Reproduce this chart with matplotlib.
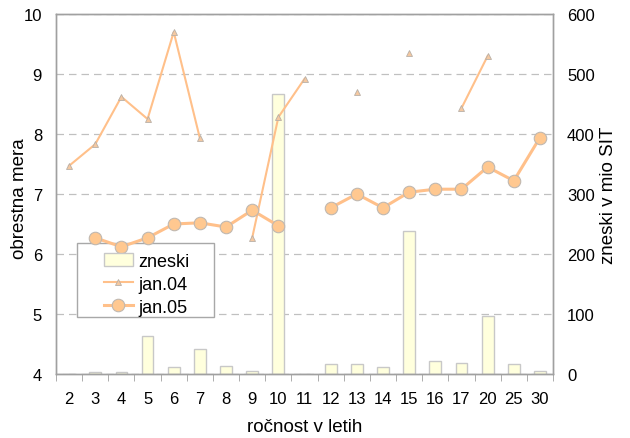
import numpy as np
import matplotlib
matplotlib.use("Agg")
import matplotlib.pyplot as plt
from matplotlib.patches import Rectangle

plt.rcParams['font.family'] = ['Liberation Sans', 'DejaVu Sans']

# podatki
rocnost = ["2", "3", "4", "5", "6", "7", "8", "9", "10", "11",
           "12", "13", "14", "15", "16", "17", "20", "25", "30"]
zneski = [0, 4, 3, 64, 11, 42, 14, 5, 467, 0,
          16, 17, 11, 239, 22, 19, 97, 17, 5]
jan04 = [7.47, 7.83, 8.62, 8.25, 9.70, 7.93, np.nan, 6.27, 8.28, 8.92,
         np.nan, 8.70, np.nan, 9.35, np.nan, 8.43, 9.30, np.nan, np.nan]
jan05 = [np.nan, 6.27, 6.12, 6.27, 6.50, 6.52, 6.45, 6.73, 6.47, np.nan,
         6.77, 7.00, 6.77, 7.03, 7.08, 7.08, 7.45, 7.22, 7.94]

siva = "#a0a0a0"
oranzna = "#ffc08a"

x = np.arange(len(rocnost))

fig = plt.figure(figsize=(6.3, 4.39), dpi=100)
ax = fig.add_axes([0.0889, 0.1458, 0.7889, 0.82])
ax2 = ax.twinx()

# stolpci na desni osi
b = ax2.bar(x, zneski, width=0.45, color="#ffffdd", edgecolor="#c8c8c8",
            linewidth=1, label="zneski", zorder=2)
ax2.set_ylim(0, 600)
ax2.set_yticks(range(0, 601, 100))
ax2.yaxis.grid(True, linestyle=(0, (6, 4)), color="#c0c0c0", linewidth=0.9)
ax2.set_axisbelow(True)
ax2.set_ylabel("zneski v mio SIT", fontsize=13.5, labelpad=4)

# crte na levi osi, nad stolpci
ax.set_zorder(ax2.get_zorder() + 1)
ax.patch.set_visible(False)
l1, = ax.plot(x, jan04, color=oranzna, linewidth=1.5, marker="^", markersize=5,
              markerfacecolor="#f5c8a0", markeredgecolor="#b8b0a8",
              markeredgewidth=0.6, label="jan.04", zorder=3)
l2, = ax.plot(x, jan05, color=oranzna, linewidth=2.2, marker="o", markersize=9,
              markerfacecolor="#ffc890", markeredgecolor="#c0b8b0",
              markeredgewidth=0.8, label="jan.05", zorder=3)
ax.set_ylim(4, 10)
ax.set_xlim(-0.5, len(rocnost) - 0.5)
ax.set_yticks(range(4, 11))
ax.set_ylabel("obrestna mera", fontsize=13.5)
ax.yaxis.set_label_coords(-0.056, 0.49)
ax.set_xlabel("ročnost v letih", fontsize=13.5, labelpad=9)

ax.set_xticks(x)
ax.set_xticklabels(rocnost)
ax.set_xticks(np.arange(-0.5, len(rocnost), 1), minor=True)
ax.tick_params(axis="x", which="major", length=0, pad=12, labelsize=12)
ax.tick_params(axis="x", which="minor", length=5, color=siva, direction="out")
ax.tick_params(axis="y", length=0, pad=10, labelsize=12)
ax2.tick_params(axis="y", length=0, pad=10, labelsize=12)

for a in (ax, ax2):
    for s in a.spines.values():
        s.set_color(siva)
        s.set_linewidth(1)

# okvir legende (kot v Excelu)
okvir = Rectangle((0.0423, 0.158), 0.2757, 0.2056, transform=ax.transAxes,
                  facecolor="white", edgecolor="#a8a8a8", linewidth=1,
                  zorder=1.5)
ax.add_patch(okvir)
leg = ax.legend([b, l1, l2], ["zneski", "jan.04", "jan.05"],
                loc="upper left", bbox_to_anchor=(0.0966, 0.336),
                fontsize=13, frameon=False, borderpad=0, labelspacing=0.32,
                handlelength=1.6, handletextpad=0.3, borderaxespad=0)

fig.savefig("out.png", dpi=100)
